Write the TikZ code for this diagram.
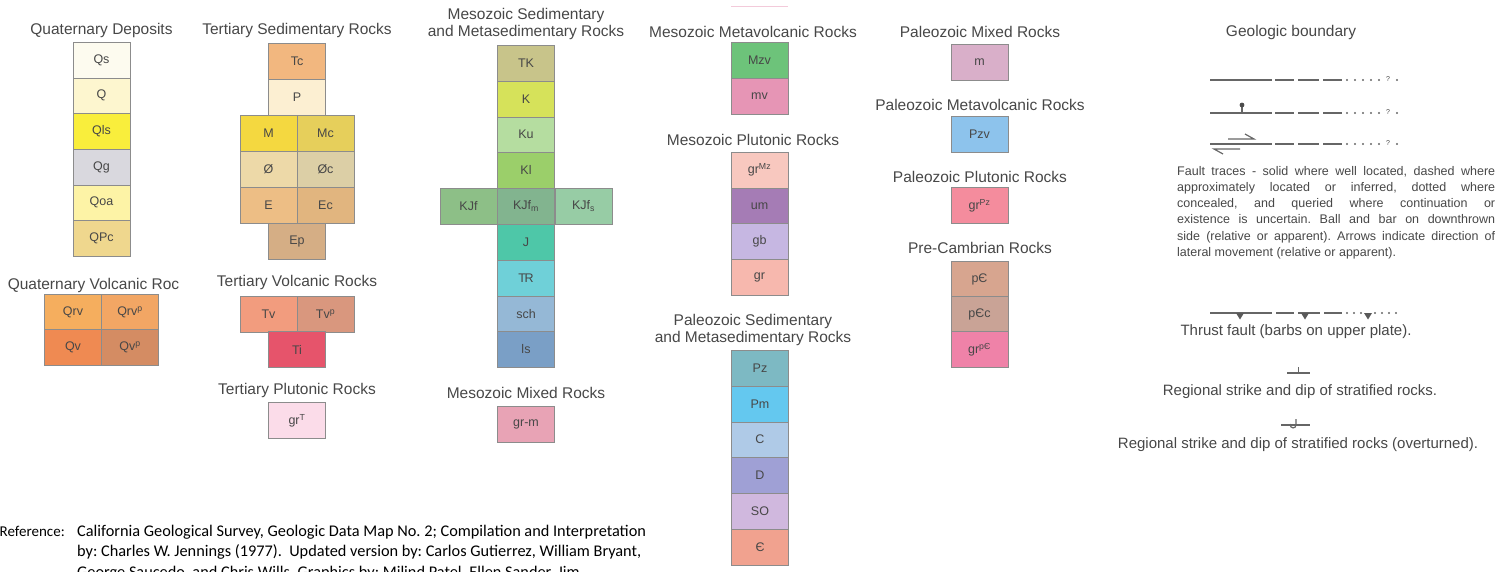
\documentclass[tikz,border=0pt]{standalone}
\usepackage{fontspec}
\setmainfont{Liberation Sans}
\newfontfamily\reffont{Carlito}
\frenchspacing

% unit colours
\definecolor{cQs}{HTML}{FDFBEF}
\definecolor{cQ}{HTML}{FDF6CF}
\definecolor{cQls}{HTML}{F9EE3C}
\definecolor{cQg}{HTML}{D9D8DE}
\definecolor{cQoa}{HTML}{FDF3A6}
\definecolor{cQPc}{HTML}{EFD78E}
\definecolor{cQrv}{HTML}{F5AE5E}
\definecolor{cQrvp}{HTML}{F2A664}
\definecolor{cQv}{HTML}{EF8A52}
\definecolor{cQvp}{HTML}{D48C63}
\definecolor{cTc}{HTML}{F2B77F}
\definecolor{cP}{HTML}{FCEFD2}
\definecolor{cM}{HTML}{F4D840}
\definecolor{cMc}{HTML}{E6CF5B}
\definecolor{cOe}{HTML}{EDD9A8}
\definecolor{cOec}{HTML}{DCCFA6}
\definecolor{cE}{HTML}{EDBE85}
\definecolor{cEc}{HTML}{E1B57F}
\definecolor{cEp}{HTML}{D5AE85}
\definecolor{cTv}{HTML}{F29C7E}
\definecolor{cTvp}{HTML}{D9977E}
\definecolor{cTi}{HTML}{E6546B}
\definecolor{cgrT}{HTML}{FBDCE9}
\definecolor{cTK}{HTML}{C8C48A}
\definecolor{cK}{HTML}{D6E25A}
\definecolor{cKu}{HTML}{B5DDA0}
\definecolor{cKl}{HTML}{9BCF6A}
\definecolor{cKJf}{HTML}{8DBF87}
\definecolor{cKJfm}{HTML}{82B48F}
\definecolor{cKJfs}{HTML}{97CCA5}
\definecolor{cJ}{HTML}{4EC7A8}
\definecolor{cTr}{HTML}{6FD0D8}
\definecolor{csch}{HTML}{95B8D6}
\definecolor{cls}{HTML}{7A9FC6}
\definecolor{cgrm}{HTML}{E8A3B5}
\definecolor{cMzv}{HTML}{6DC37A}
\definecolor{cmv}{HTML}{E695B5}
\definecolor{cgrMz}{HTML}{F8C8BF}
\definecolor{cum}{HTML}{A57CB5}
\definecolor{cgb}{HTML}{C6B7E2}
\definecolor{cgr}{HTML}{F7B8AE}
\definecolor{cPz}{HTML}{7DB9C3}
\definecolor{cPm}{HTML}{64C8EF}
\definecolor{cC}{HTML}{AFCAE7}
\definecolor{cD}{HTML}{9FA0D5}
\definecolor{cSO}{HTML}{D0B8DE}
\definecolor{cCm}{HTML}{F1A28F}
\definecolor{cm}{HTML}{D9AFC9}
\definecolor{cPzv}{HTML}{8DC3EC}
\definecolor{cgrPz}{HTML}{F48C9D}
\definecolor{cpC}{HTML}{D7A58F}
\definecolor{cpCc}{HTML}{C9A396}
\definecolor{cgrpC}{HTML}{EF82A8}

\begin{document}
\begin{tikzpicture}[x=1pt, y=-1pt,
  every node/.style={text=black!72},
  unit/.style={draw=black!45, minimum width=57, minimum height=35.8, inner sep=0pt,
    font=\fontsize{12.5}{14}\selectfont},
  title/.style={font=\fontsize{15.5}{17}\selectfont, align=center},
  caption/.style={font=\fontsize{15}{17}\selectfont},
  reftext/.style={anchor=base west, inner sep=0pt, text=black, font=\reffont\fontsize{16.3}{20}\selectfont},
  fault/.style={draw=black!60, line width=1.6pt}]
\useasboundingbox (0,0) rectangle (1505,571);
\clip (0,0) rectangle (1505,571);

% Quaternary
\node[title] (tqd) at (101.5,30) {Quaternary Deposits};
\foreach \lab/\col [count=\i from 0] in {Qs/cQs, Q/cQ, Qls/cQls, Qg/cQg, Qoa/cQoa, QPc/cQPc}
  \node[unit, fill=\col] (qd\i) at (101.5,{60+35.7*\i}) {\lab};
\node[title] (tqv) at (93.5,285) {Quaternary Volcanic Roc};
\node[unit, fill=cQrv] (qrv) at (73,312.5) {Qrv};
\node[unit, fill=cQrvp] (qrvp) at (130,312.5) {Qrv\textsuperscript{p}};
\node[unit, fill=cQv] (qv) at (73,347.5) {Qv};
\node[unit, fill=cQvp] (qvp) at (130,347.5) {Qv\textsuperscript{p}};

% Tertiary
\node[title] (tts) at (297,30) {Tertiary Sedimentary Rocks};
\node[unit, fill=cTc] (tc) at (297,61) {Tc};
\node[unit, fill=cP] (p) at (297,97) {P};
\foreach \a/\b/\ca/\cb [count=\i from 0] in {M/Mc/cM/cMc, Ø/Øc/cOe/cOec, E/Ec/cE/cEc} {
  \node[unit, fill=\ca] (tl\i) at (268.5,{133+36*\i}) {\a};
  \node[unit, fill=\cb] (tr\i) at (325.5,{133+36*\i}) {\b};
}
\node[unit, fill=cEp] (ep) at (297,241) {Ep};
\node[title] (ttv) at (297,282) {Tertiary Volcanic Rocks};
\node[unit, fill=cTv] (tv) at (268.5,314) {Tv};
\node[unit, fill=cTvp] (tvp) at (325.5,314) {Tv\textsuperscript{p}};
\node[unit, fill=cTi] (ti) at (297,349.5) {Ti};
\node[title] (ttp) at (297,390) {Tertiary Plutonic Rocks};
\node[unit, fill=cgrT] (grt) at (297,420.5) {gr\textsuperscript{T}};

% Mesozoic sedimentary
\node[title] (tms) at (526,24) {Mesozoic Sedimentary\\and Metasedimentary  Rocks};
\foreach \lab/\col [count=\i from 0] in {TK/cTK, K/cK, Ku/cKu, Kl/cKl, /cKJfm, J/cJ, {T\kern-.12em R}/cTr, sch/csch, ls/cls}
  \node[unit, fill=\col] (ms\i) at (526,{63+35.8*\i}) {\lab};
\node[unit, fill=cKJf] (kjf) at (468.5,206.2) {KJf};
\node[unit, fill=cKJfm] (kjfm) at (526,206.2) {KJf\textsubscript{m}};
\node[unit, fill=cKJfs] (kjfs) at (583.5,206.2) {KJf\textsubscript{s}};
\node[title] (tmm) at (526,393) {Mesozoic Mixed Rocks};
\node[unit, fill=cgrm] (grm) at (526,424) {gr-m};

% Mesozoic volcanic and plutonic
\draw[cmv!50, line width=1pt] (731,6) -- (788,6);
\node[title] (tmv) at (753,32) {Mesozoic Metavolcanic Rocks};
\node[unit, fill=cMzv] (mzv) at (759.5,60.5) {Mzv};
\node[unit, fill=cmv] (mv) at (759.5,96.5) {mv};
\node[title] (tmp) at (753,140) {Mesozoic Plutonic Rocks};
\foreach \lab/\col [count=\i from 0] in {{gr\textsuperscript{Mz}}/cgrMz, um/cum, gb/cgb, gr/cgr}
  \node[unit, fill=\col] (mp\i) at (759.5,{170+35.75*\i}) {\lab};

% Paleozoic
\node[title] (tps) at (753,330) {Paleozoic Sedimentary\\and Metasedimentary Rocks};
\foreach \lab/\col [count=\i from 0] in {Pz/cPz, Pm/cPm, C/cC, D/cD, SO/cSO, Є/cCm}
  \node[unit, fill=\col] (ps\i) at (760,{368+35.8*\i}) {\lab};
\node[title] (tpm) at (980,32) {Paleozoic Mixed Rocks};
\node[unit, fill=cm] (m) at (979.5,62) {m};
\node[title] (tpv) at (980,105) {Paleozoic Metavolcanic Rocks};
\node[unit, fill=cPzv] (pzv) at (979.5,134) {Pzv};
\node[title] (tpp) at (980,177) {Paleozoic Plutonic Rocks};
\node[unit, fill=cgrPz] (grpz) at (979.5,205.5) {gr\textsuperscript{Pz}};
\node[title] (tpc) at (980,248) {Pre-Cambrian Rocks};
\foreach \lab/\col [count=\i from 0] in {pЄ/cpC, pЄc/cpCc, {gr\textsuperscript{pЄ}}/cgrpC}
  \node[unit, fill=\col] (pc\i) at (979.5,{279.5+35*\i}) {\lab};

% Structural symbols
\node[title] (tgb) at (1291,32) {Geologic boundary};
\foreach \y in {80,113,144} {
  \draw[fault] (1210,\y) -- (1272,\y);
  \foreach \a/\b in {1275/1294, 1298/1319, 1323/1342}
    \draw[fault] (\a,\y) -- (\b,\y);
  \foreach \d in {1347,1355,1363,1371,1379,1397}
    \fill[black!60] (\d,\y) circle (1.1pt);
  \node[font=\fontsize{7}{7}\selectfont, inner sep=0pt, anchor=base] at (1388,\y+1.5) {?};
}
\draw[black!60, line width=1.2pt] (1242,113) -- (1242,106);
\fill[black!70] (1242,105) circle (2.4pt);
\draw[black!60, line width=1.2pt] (1228,139) -- (1254,139) -- (1245,134);
\draw[black!60, line width=1.2pt] (1240,149) -- (1214,149) -- (1223,154);

\node[anchor=north west, inner sep=0pt, align=left, font=\fontsize{12.5}{16.2}\selectfont] (ftxt) at (1177,166)
  {\makebox[318pt][s]{Fault traces - solid where well located, dashed where}\\
   \makebox[318pt][s]{approximately located or inferred, dotted where}\\
   \makebox[318pt][s]{concealed, and queried where continuation or}\\
   \makebox[318pt][s]{existence is uncertain. Ball and bar on downthrown}\\
   \makebox[318pt][s]{side (relative or apparent). Arrows indicate direction of}\\
   lateral movement (relative or apparent).};

\draw[fault] (1210,313) -- (1272,313);
\foreach \a/\b in {1276/1294, 1298/1320, 1324/1342}
  \draw[fault] (\a,313) -- (\b,313);
\foreach \d in {1347,1354,1361,1375,1382,1389,1396}
  \fill[black!60] (\d,313) circle (1.1pt);
\foreach \b in {1240,1305,1368}
  \fill[black!65] (\b-4,313) -- (\b+4,313) -- (\b,319.5) -- cycle;
\node[caption] (cthr) at (1296,332) {Thrust fault (barbs on upper plate).};

\draw[black!60, line width=1.2pt] (1287,373) -- (1310,373);
\draw[black!60, line width=1.2pt] (1298.5,373) -- (1298.5,367);
\node[caption] (csd) at (1300,392) {Regional strike and dip of stratified rocks.};

\draw[black!60, line width=1.2pt] (1281,425) -- (1310,425);
\draw[black!60, line width=1.2pt] (1296,419) -- (1296,425) .. controls (1296,429) and (1290,429) .. (1290,424);
\node[caption] (cov) at (1298,445) {Regional strike and dip of stratified rocks (overturned).};

% Reference
\node[reftext, font=\reffont\fontsize{15}{20}\selectfont] (rlab) at (-0.5,536) {Reference:};
\node[reftext] (rl1) at (77,536) {California Geological Survey, Geologic Data Map No. 2; Compilation and Interpretation};
\node[reftext] (rl2) at (77,556.5) {by: Charles W. Jennings (1977).\ \ Updated version by: Carlos Gutierrez, William Bryant,};
\node[reftext] (rl3) at (77,577.5) {George Saucedo, and Chris Wills. Graphics by: Milind Patel, Ellen Sander, Jim};
\end{tikzpicture}
\end{document}
